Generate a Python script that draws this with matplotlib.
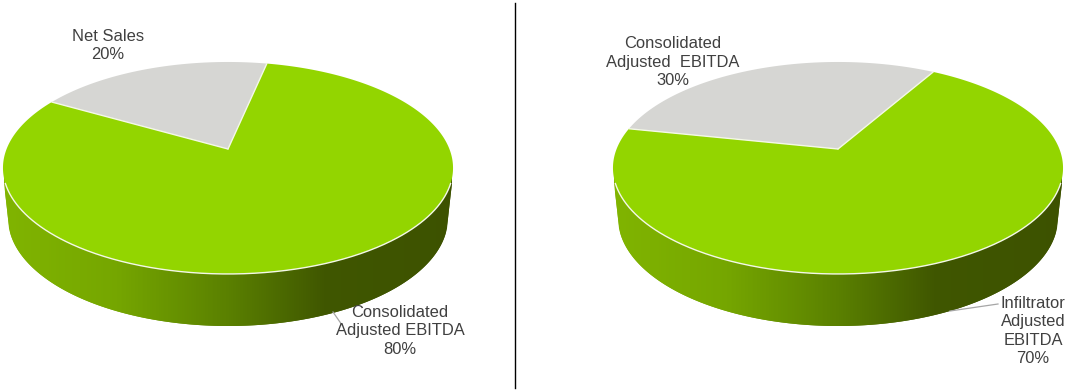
import numpy as np
import matplotlib
matplotlib.use("Agg")
import matplotlib.pyplot as plt
from matplotlib.colors import LinearSegmentedColormap
from matplotlib.patches import Polygon
from matplotlib.collections import PolyCollection

plt.rcParams['font.family'] = ['Liberation Sans', 'DejaVu Sans']

# Data
left_values = [20, 80]
left_labels = ["Net Sales\n20%", "Consolidated\nAdjusted EBITDA\n80%"]
right_values = [30, 70]
right_labels = ["Consolidated\nAdjusted  EBITDA\n30%", "Infiltrator\nAdjusted\nEBITDA\n70%"]
slice_colors = ["#D6D6D3", "#93D500"]

W, H = 1070, 392
fig = plt.figure(figsize=(W / 100, H / 100), dpi=100)
ax = fig.add_axes([0, 0, 1, 1])
ax.set_xlim(0, W)
ax.set_ylim(H, 0)
ax.axis("off")

A, B, K = 221.4, 102.6, 0.179
APEX_Y = 149
DEPTH_RX, DEPTH_RY, DEPTH_CY = 220, 108, 218
EDGE = "#F4F8E8"
side_cmap = LinearSegmentedColormap.from_list(
    "side", [(0.0, "#80B400"), (0.25, "#75A600"), (0.5, "#5A8000"),
             (0.72, "#3F5600"), (1.0, "#3D5200")])


def rim(cx, t):
    d = 1 + K * np.sin(t)
    return cx + A * np.cos(t) / d, APEX_Y - B * np.sin(t) / d


def draw_pie(cx, values, start_deg):
    # side wall, built from overlapping 1 px strips so the lower edge stays smooth
    th = np.linspace(np.pi, 2 * np.pi, 400)
    ox = np.r_[cx - 224, cx + DEPTH_RX * np.cos(th), cx + 224]
    oy = np.r_[183, DEPTH_CY - DEPTH_RY * np.sin(th), 183]
    xs = np.arange(cx - 224, cx + 224, 1.0)
    strips, cols = [], []
    for x in xs:
        x2 = min(x + 2, cx + 224)
        strips.append([(x, 170), (x2, 170), (x2, np.interp(x2, ox, oy)), (x, np.interp(x, ox, oy))])
        cols.append(side_cmap((x + 1 - (cx - 224)) / 448))
    ax.add_collection(PolyCollection(strips, facecolors=cols, edgecolors="none", zorder=1))

    # top face: first value runs anticlockwise from start_deg
    total = sum(values)
    a0 = start_deg
    for i, v in enumerate(values):
        a1 = a0 + 360 * v / total
        t = np.radians(np.linspace(a0, a1, 400))
        x, y = rim(cx, t)
        pts = np.column_stack([np.r_[cx, x], np.r_[APEX_Y, y]])
        ax.add_patch(Polygon(pts, closed=True, fc=slice_colors[i], ec="none", zorder=2))
        a0 = a1

    # white seams: the radii, and the front rim where the top meets the wall
    a0 = start_deg
    for v in values:
        ex, ey = rim(cx, np.radians(a0))
        ax.plot([cx, ex], [APEX_Y, ey], color=EDGE, lw=1.0, zorder=3, solid_capstyle="round")
        a0 += 360 * v / total
    t = np.linspace(np.pi, 2 * np.pi, 400)
    x, y = rim(cx, t)
    mask = y >= 183
    ax.plot(x[mask], y[mask], color=EDGE, lw=1.0, zorder=3)


draw_pie(228, left_values, 78.1)
draw_pie(838, right_values, 60.2)

# divider
ax.plot([515, 515], [3, 388], color="black", lw=1.0, zorder=5)

# leaders
ax.plot([333, 342], [312, 325], color="#A6A6A6", lw=0.9, zorder=4)
ax.plot([950, 998], [311, 304], color="#A6A6A6", lw=0.9, zorder=4)

# labels
kw = dict(ha="center", va="center", multialignment="center", fontsize=11.85,
          color="#404040", linespacing=1.29, zorder=6)
ax.text(108, 45.5, left_labels[0], **kw)
ax.text(400, 331, left_labels[1], **kw)
ax.text(673, 62, right_labels[0], **kw)
ax.text(1033, 331, right_labels[1], **kw)

fig.savefig("out.png", dpi=100, facecolor="white")
